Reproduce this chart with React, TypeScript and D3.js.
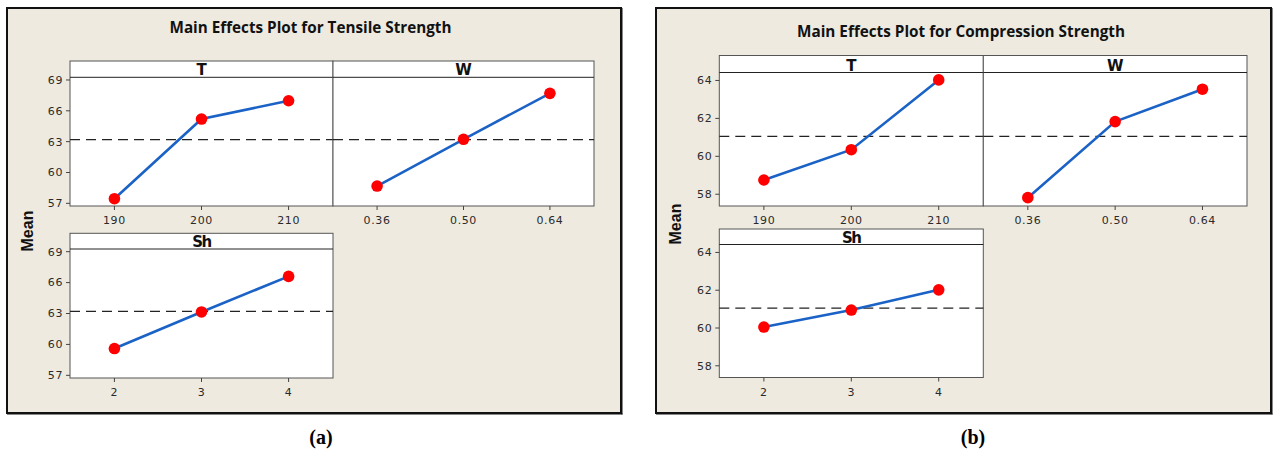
import React from 'react';
import * as d3 from 'd3';

// factor levels
const tLevels = ['190', '200', '210'];
const wLevels = ['0.36', '0.50', '0.64'];
const shLevels = ['2', '3', '4'];

// (a) tensile strength means
const tensileT = [57.45, 65.2, 66.98];
const tensileW = [58.68, 63.23, 67.7];
const tensileSh = [59.6, 63.15, 66.6];
const tensileMean = 63.2;
const tensileTicks = [57, 60, 63, 66, 69];

// (b) compression strength means
const compT = [58.75, 60.35, 64.03];
const compW = [57.82, 61.83, 63.54];
const compSh = [60.05, 60.95, 62.02];
const compMean = 61.05;
const compTicks = [58, 60, 62, 64];

const FONT = '"DejaVu Sans", Verdana, sans-serif';

type PanelProps = {
  name: string;
  levels: string[];
  values: number[];
  mean: number;
  ticks: number[];
  x0: number; x1: number;
  headerTop: number; plotTop: number; bottom: number;
  yDomain: [number, number];
  showY: boolean;
};

const Panel = (p: PanelProps) => {
  const x = d3.scalePoint<string>().domain(p.levels).range([p.x0, p.x1]).padding(0.51);
  const y = d3.scaleLinear().domain(p.yDomain).range([p.bottom, p.plotTop]);
  const line = d3.line<number>()
    .x((d, i) => x(p.levels[i]) as number)
    .y(d => y(d));
  return (
    <g>
      <rect x={p.x0} y={p.headerTop} width={p.x1 - p.x0} height={p.bottom - p.headerTop} fill="#fff" stroke="#555" strokeWidth={1} />
      <line x1={p.x0} x2={p.x1} y1={p.plotTop} y2={p.plotTop} stroke="#222" strokeWidth={1} />
      <text x={(p.x0 + p.x1) / 2} y={p.plotTop - 2} textAnchor="middle" fontFamily={FONT} fontWeight="bold" fontSize={15} letterSpacing={p.name.length > 1 ? -1.5 : 0} fill="#111">{p.name}</text>
      {p.showY && p.ticks.map(t => (
        <g key={t}>
          <line x1={p.x0 - 4} x2={p.x0} y1={y(t)} y2={y(t)} stroke="#444" />
          <text x={p.x0 - 7} y={y(t)} dy="0.35em" textAnchor="end" fontFamily={FONT} fontSize={11} letterSpacing={0.6} fill="#2a2a2a">{t}</text>
        </g>
      ))}
      {p.levels.map(l => (
        <g key={l}>
          <line x1={x(l)} x2={x(l)} y1={p.bottom} y2={p.bottom + 4} stroke="#444" />
          <text x={x(l)} y={p.bottom + 18} textAnchor="middle" fontFamily={FONT} fontSize={11} letterSpacing={0.6} fill="#2a2a2a">{l}</text>
        </g>
      ))}
      <line x1={p.x0} x2={p.x1} y1={y(p.mean)} y2={y(p.mean)} stroke="#222" strokeWidth={1.2} strokeDasharray="10,6" />
      <path d={line(p.values) || ''} fill="none" stroke="#1A62C6" strokeWidth={2.6} />
      {p.values.map((v, i) => (
        <circle key={i} cx={x(p.levels[i])} cy={y(v)} r={5.8} fill="#FF0000" />
      ))}
    </g>
  );
};

type FigureProps = {
  title: string;
  box: { x: number; y: number; w: number; h: number };
  titleX: number; titleY: number; titleLen: number;
  cols: number[];
  top: { headerTop: number; plotTop: number; bottom: number };
  low: { headerTop: number; plotTop: number; bottom: number };
  yDomain: [number, number];
  ticks: number[];
  mean: number;
  series: number[][];
  meanX: number; meanY: number;
  caption: string; captionX: number;
};

const Figure = (f: FigureProps) => {
  const { box } = f;
  return (
    <g>
      <rect x={box.x} y={box.y} width={box.w} height={box.h} fill="#EEEAE0" stroke="#111" strokeWidth={2} />
      <line x1={box.x + box.w + 1} x2={box.x + box.w + 1} y1={box.y} y2={box.y + box.h + 1.5} stroke="#111" strokeWidth={1} />
      <line x1={box.x} x2={box.x + box.w + 1.5} y1={box.y + box.h + 1} y2={box.y + box.h + 1} stroke="#111" strokeWidth={1} />
      <text x={f.titleX} y={f.titleY} dy="0.35em" textAnchor="middle" fontFamily='"Open Sans", sans-serif' fontWeight="bold" fontSize={15.5} textLength={f.titleLen} lengthAdjust="spacingAndGlyphs" fill="#111">{f.title}</text>
      <Panel name="T" levels={tLevels} values={f.series[0]} mean={f.mean} ticks={f.ticks}
        x0={f.cols[0]} x1={f.cols[1]} {...f.top} yDomain={f.yDomain} showY={true} />
      <Panel name="W" levels={wLevels} values={f.series[1]} mean={f.mean} ticks={f.ticks}
        x0={f.cols[1]} x1={f.cols[2]} {...f.top} yDomain={f.yDomain} showY={false} />
      <Panel name="Sh" levels={shLevels} values={f.series[2]} mean={f.mean} ticks={f.ticks}
        x0={f.cols[0]} x1={f.cols[1]} {...f.low} yDomain={f.yDomain} showY={true} />
      <text transform={`translate(${f.meanX},${f.meanY}) rotate(-90)`} dy="0.35em" textAnchor="middle" fontFamily='"Liberation Sans", Arial, sans-serif' fontWeight="bold" fontSize={16} fill="#111">Mean</text>
      <text x={f.captionX} y={444} textAnchor="middle" fontFamily='"Liberation Serif", "Times New Roman", serif' fontWeight="bold" fontSize={20} fill="#000">{f.caption}</text>
    </g>
  );
};

export default function App() {
  return (
    <svg width={1279} height={455} style={{ position: 'absolute', left: 0, top: 0, background: '#fff' }}>
      <Figure
        title="Main Effects Plot for Tensile Strength"
        box={{ x: 7, y: 8, w: 614, h: 405 }}
        titleX={310.5} titleY={28} titleLen={282}
        cols={[70, 333, 594]}
        top={{ headerTop: 61, plotTop: 77.3, bottom: 206 }}
        low={{ headerTop: 233.3, plotTop: 249, bottom: 378 }}
        yDomain={[56.74, 69.26]}
        ticks={tensileTicks}
        mean={tensileMean}
        series={[tensileT, tensileW, tensileSh]}
        meanX={27} meanY={231}
        caption="(a)" captionX={321}
      />
      <Figure
        title="Main Effects Plot for Compression Strength"
        box={{ x: 656, y: 8, w: 615, h: 405 }}
        titleX={961} titleY={32} titleLen={328}
        cols={[719.3, 983.3, 1247]}
        top={{ headerTop: 55.5, plotTop: 72.5, bottom: 206 }}
        low={{ headerTop: 229, plotTop: 244.5, bottom: 377.5 }}
        yDomain={[57.38, 64.42]}
        ticks={compTicks}
        mean={compMean}
        series={[compT, compW, compSh]}
        meanX={675} meanY={224}
        caption="(b)" captionX={973}
      />
    </svg>
  );
}
